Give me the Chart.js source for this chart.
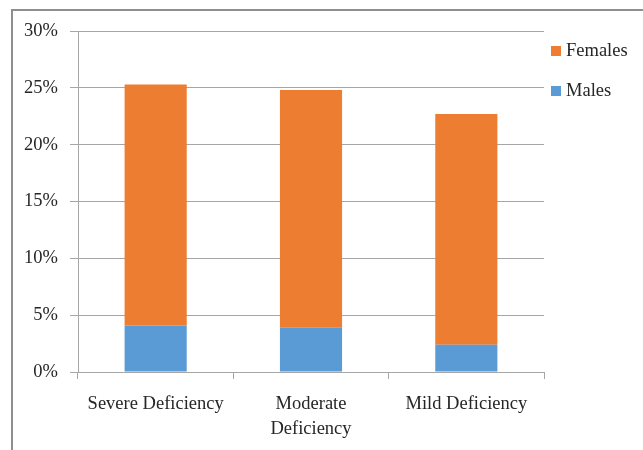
<!DOCTYPE html>
<html>
<head>
<meta charset="utf-8">
<script src="https://cdn.jsdelivr.net/npm/chart.js@4/dist/chart.umd.min.js"></script>
<style>
  html, body { margin: 0; padding: 0; background: #fff; overflow: hidden; }
  #frame {
    position: absolute; left: 11px; top: 9px;
    width: 700px; height: 520px;
    border: 2px solid #8f8f8f;
    box-sizing: border-box;
  }
  #wrap { position: absolute; left: 0; top: 0; width: 643px; height: 450px; }
</style>
</head>
<body>
<div id="frame"></div>
<div id="wrap"><canvas id="chart" width="643" height="450"></canvas></div>
<script>
// Categories and their axis labels (the middle one wraps onto two lines)
const categories = ['Severe Deficiency', 'Moderate Deficiency', 'Mild Deficiency'];
const categoryTickLabels = [['Severe Deficiency'], ['Moderate', 'Deficiency'], ['Mild Deficiency']];

// Share of each deficiency group, in percent (stacked: males at the bottom)
const malesPct = [4.1, 3.9, 2.4];
const femalesPct = [21.2, 20.9, 20.3];

// Value axis
const yTickValues = [0, 5, 10, 15, 20, 25, 30];

const FONT = { family: '"Liberation Serif", "Times New Roman", serif', size: 18.5 };
const TEXT = '#262626';
const LINE = '#a6a6a6';

// Simple legend drawn to the right of the plot, listing datasets top-down
const sideLegend = {
  id: 'sideLegend',
  afterDraw(chart, args, opts) {
    const ctx = chart.ctx;
    const sets = chart.data.datasets.slice().reverse();
    ctx.save();
    ctx.font = FONT.size + 'px ' + FONT.family;
    ctx.textBaseline = 'alphabetic';
    ctx.textAlign = 'left';
    sets.forEach((ds, i) => {
      const base = opts.y + i * opts.spacing;
      ctx.fillStyle = ds.backgroundColor;
      ctx.fillRect(opts.x, base - opts.box, opts.box, opts.box);
      ctx.fillStyle = TEXT;
      ctx.fillText(ds.label, opts.x + opts.box + opts.gap, base);
    });
    ctx.restore();
  }
};

new Chart(document.getElementById('chart'), {
  type: 'bar',
  data: {
    labels: categories,
    datasets: [
      { label: 'Males', data: malesPct, backgroundColor: '#5b9bd5' },
      { label: 'Females', data: femalesPct, backgroundColor: '#ed7d31' }
    ]
  },
  plugins: [sideLegend],
  options: {
    responsive: false,
    animation: false,
    layout: { padding: { left: 12, top: 31, right: 99, bottom: 8 } },
    datasets: { bar: { categoryPercentage: 1, barPercentage: 0.4, borderWidth: 0 } },
    plugins: {
      legend: { display: false },
      tooltip: { enabled: false },
      sideLegend: { x: 551, y: 56, spacing: 40, box: 10, gap: 5 }
    },
    scales: {
      x: {
        stacked: true,
        afterFit(s) { s.height = 70; },
        grid: { drawOnChartArea: false, drawTicks: true, tickLength: 7, color: LINE, offset: true },
        border: { display: true, color: LINE, width: 1 },
        ticks: {
          color: TEXT, font: Object.assign({ lineHeight: 1.35 }, FONT), padding: 13,
          maxRotation: 0, autoSkip: false,
          callback: (v, i) => categoryTickLabels[i]
        }
      },
      y: {
        stacked: true,
        min: yTickValues[0],
        max: yTickValues[yTickValues.length - 1],
        afterFit(s) { s.width = 66; },
        afterBuildTicks(s) { s.ticks = yTickValues.map(v => ({ value: v })); },
        grid: { color: LINE, drawTicks: true, tickLength: 8 },
        border: { display: true, color: LINE, width: 1 },
        ticks: { color: TEXT, font: FONT, padding: 12, callback: v => v + '%' }
      }
    }
  }
});
</script>
</body>
</html>
